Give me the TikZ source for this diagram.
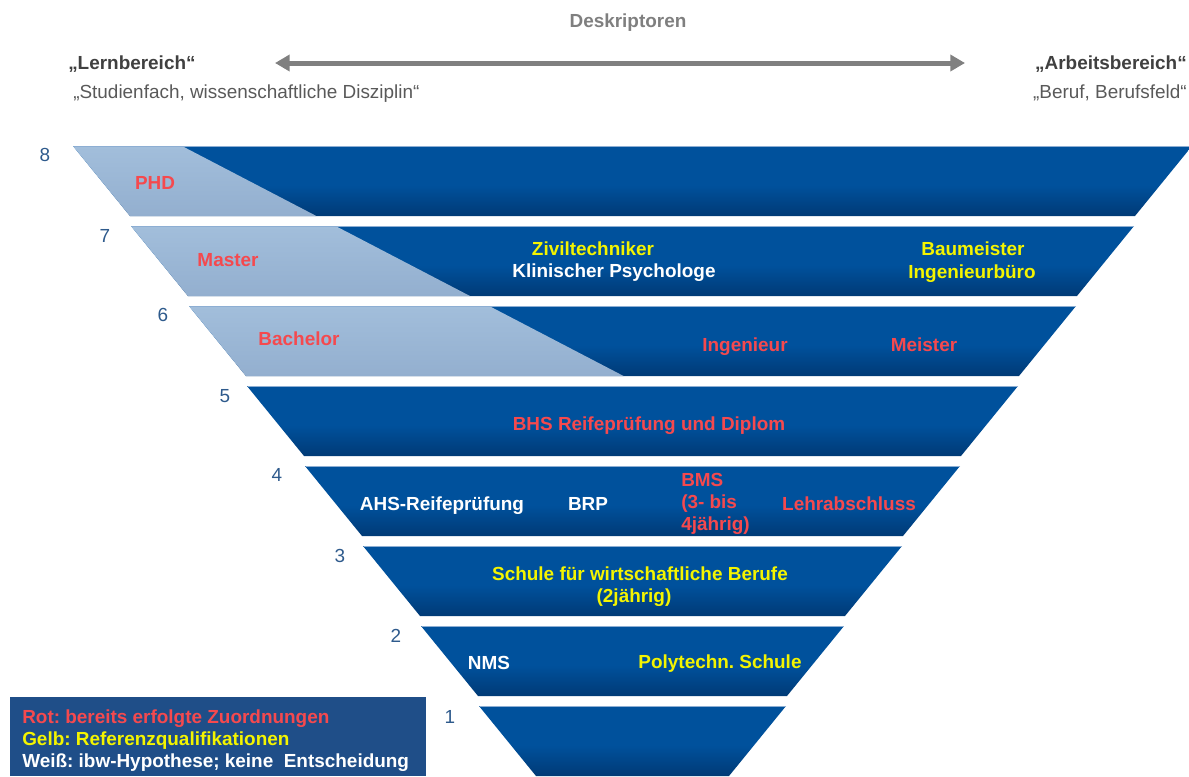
\documentclass[tikz,border=0pt]{standalone}
\usepackage{fontspec}
\setmainfont{Liberation Sans}
\usetikzlibrary{arrows.meta}
\definecolor{bandtop}{HTML}{00519C}
\definecolor{bandbot}{HTML}{003A76}
\definecolor{bandedge}{HTML}{8DAED3}
\definecolor{lighttop}{HTML}{A2BEDB}
\definecolor{lightbot}{HTML}{93AFCF}
\definecolor{numblue}{HTML}{2E5A8C}
\definecolor{txtred}{HTML}{F5494E}
\definecolor{txtyellow}{HTML}{F4F400}
\definecolor{legendblue}{HTML}{1F4E88}
\definecolor{arrowgray}{HTML}{808080}
\definecolor{headgray}{HTML}{7F7F7F}
\definecolor{darkgray}{HTML}{404040}
\definecolor{midgray}{HTML}{595959}
\pgfdeclareverticalshading{bandshade}{100bp}{color(0bp)=(bandbot); color(25bp)=(bandbot); color(47bp)=(bandtop); color(100bp)=(bandtop)}
\tikzset{
  band/.style={shading=bandshade},
  bandtopline/.style={draw=bandedge, line width=0.9pt},
  lightpart/.style={top color=lighttop, bottom color=lightbot},
  lbl/.style={font=\bfseries\fontsize{14.2}{16.5}\selectfont, anchor=base, inner sep=0pt},
  redlbl/.style={lbl, text=txtred},
  yellbl/.style={lbl, text=txtyellow},
  whtlbl/.style={lbl, text=white},
  numlbl/.style={font=\fontsize{14.2}{16.5}\selectfont, anchor=base, inner sep=0pt, text=numblue},
  garrow/.style={draw=arrowgray, line width=3.75pt, {Triangle[length=11pt,width=12pt]}-{Triangle[length=11pt,width=12pt]}}
}
\begin{document}
\frenchspacing
\begin{tikzpicture}[x=0.75pt,y=-0.75pt]
\useasboundingbox (0,0) rectangle (1189,776);
% header
\node[lbl, text=headgray] (desk) at (628,27) {Deskriptoren};
\node[lbl, text=darkgray, anchor=base west] (lern) at (68,69) {„Lernbereich“};
\node[lbl, font=\fontsize{14.2}{16.5}\selectfont, text=midgray, anchor=base west] (stud) at (73,98) {„Studienfach, wissenschaftliche Disziplin“};
\node[lbl, text=darkgray, anchor=base east] (arb) at (1187,69) {„Arbeitsbereich“};
\node[lbl, font=\fontsize{14.2}{16.5}\selectfont, text=midgray, anchor=base east] (beruf) at (1187,98) {„Beruf, Berufsfeld“};
\coordinate (al) at (275,63);
\coordinate (ar) at (965,63);
\draw[garrow] (al) -- (ar);
% bands
\foreach \i in {0,...,7} {
  \path[band] ({73+58*\i},{146+80*\i}) -- ({1192-58*\i},{146+80*\i}) -- ({1135-58*\i},{216+80*\i}) -- ({130+58*\i},{216+80*\i}) -- cycle;
}
\foreach \i in {0,1,2} {
  \path[lightpart] ({73+58*\i},{146+80*\i}) -- ({182+80*\i*1.92},{146+80*\i}) -- ({182+(80*\i+70)*1.92},{216+80*\i}) -- ({130+58*\i},{216+80*\i}) -- cycle;
}
\foreach \i in {0,...,7} {
  \draw[bandtopline] ({73.5+58*\i},{146.5+80*\i}) -- ({1191.5-58*\i},{146.5+80*\i});
}
% level numbers
\node[numlbl] (n8) at (45,161) {8};
\node[numlbl] (n7) at (105,242) {7};
\node[numlbl] (n6) at (163,321) {6};
\node[numlbl] (n5) at (225,402) {5};
\node[numlbl] (n4) at (277,481) {4};
\node[numlbl] (n3) at (340,562) {3};
\node[numlbl] (n2) at (396,642) {2};
\node[numlbl] (n1) at (450,723) {1};
% band texts
\node[redlbl] (phd) at (155,189) {PHD};
\node[redlbl] (master) at (228,266) {Master};
\node[yellbl] (zivil) at (593,255) {Ziviltechniker};
\node[whtlbl] (klin) at (614,277) {Klinischer Psychologe};
\node[yellbl] (baum) at (973,255) {Baumeister};
\node[yellbl] (ingb) at (972,278) {Ingenieurbüro};
\node[redlbl] (bach) at (299,345) {Bachelor};
\node[redlbl] (ing) at (745,351) {Ingenieur};
\node[redlbl] (meist) at (924,351) {Meister};
\node[redlbl] (bhs) at (649,430) {BHS Reifeprüfung und Diplom};
\node[whtlbl] (ahs) at (442,510) {AHS-Reifeprüfung};
\node[whtlbl] (brp) at (588,510) {BRP};
\node[redlbl, anchor=base west] (bms1) at (681,486) {BMS};
\node[redlbl, anchor=base west] (bms2) at (681,508) {(3- bis};
\node[redlbl, anchor=base west] (bms3) at (681,530) {4jährig)};
\node[redlbl] (lehr) at (849,510) {Lehrabschluss};
\node[yellbl] (schule) at (640,580) {Schule für wirtschaftliche Berufe};
\node[yellbl] (zweij) at (634,602) {(2jährig)};
\node[whtlbl] (nms) at (489,669) {NMS};
\node[yellbl] (poly) at (720,668) {Polytechn. Schule};
% legend
\node[fill=legendblue, inner sep=0pt, minimum width=416*0.75pt, minimum height=79*0.75pt, anchor=north west] (legend) at (10,697) {};
\node[redlbl, anchor=base west] (leg1) at (22,723) {Rot: bereits erfolgte Zuordnungen};
\node[yellbl, anchor=base west] (leg2) at (22,745) {Gelb: Referenzqualifikationen};
\node[whtlbl, anchor=base west] (leg3) at (22,767) {Weiß: ibw-Hypothese; keine\ \ Entscheidung};
\end{tikzpicture}
\end{document}
